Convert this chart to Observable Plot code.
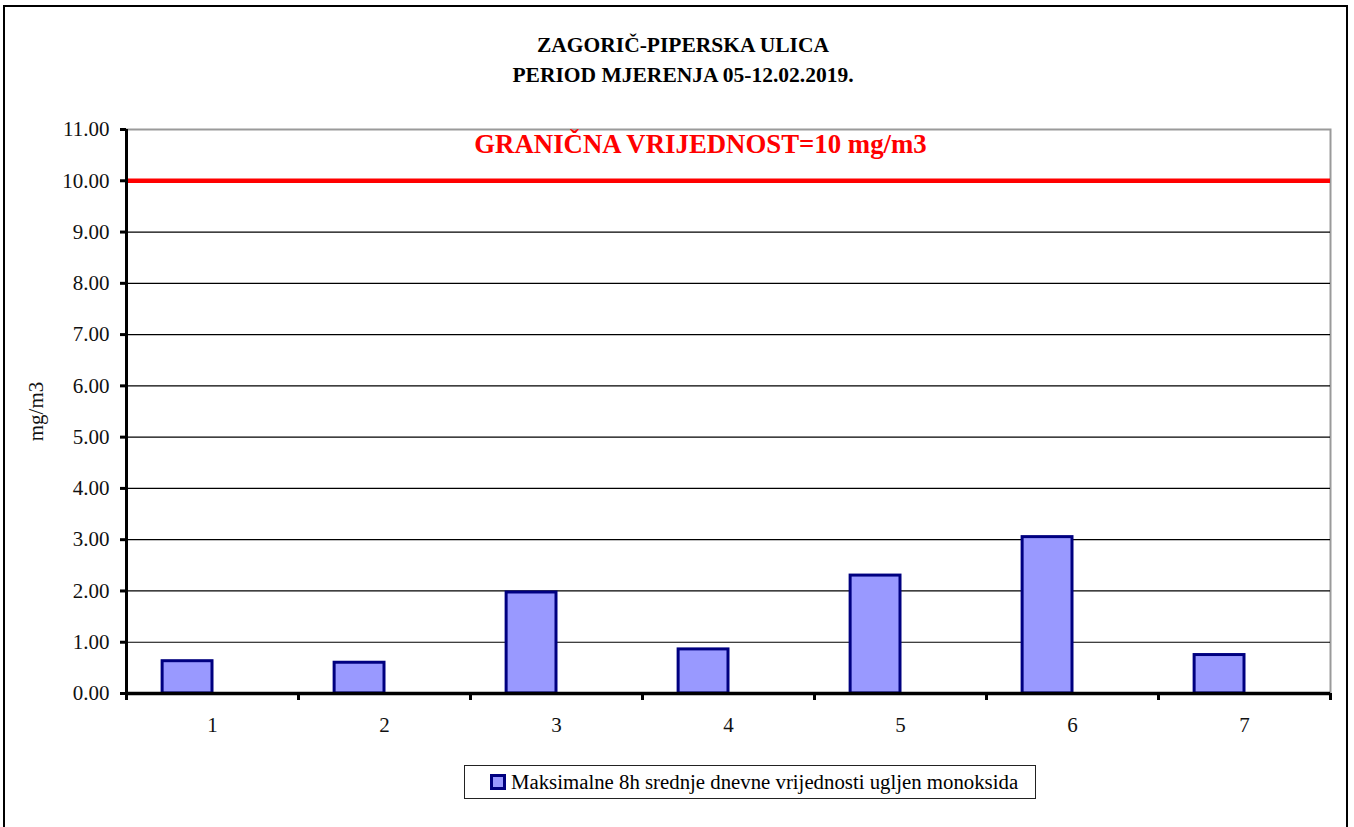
<!DOCTYPE html>
<html>
<head>
<meta charset="utf-8">
<script src="https://cdn.jsdelivr.net/npm/d3@7"></script>
<script src="https://cdn.jsdelivr.net/npm/@observablehq/plot@0.6"></script>
<style>
  html, body { margin: 0; padding: 0; background: #fff; }
  body { width: 1354px; height: 827px; position: relative; overflow: hidden; font-family: "Liberation Serif", "DejaVu Serif", serif; }
  #frame { position: absolute; left: 3px; top: 5px; width: 1345px; height: 840px; border: 2px solid #000; box-sizing: border-box; }
  #title { position: absolute; left: 683px; top: 30px; transform: translateX(-50%); text-align: center; font-weight: bold; font-size: 21.5px; line-height: 30px; color: #000; white-space: nowrap; }
  #chart { position: absolute; left: 0; top: 0; }
  #legend { position: absolute; left: 464px; top: 765px; width: 572px; height: 34px; border: 1.5px solid #222; box-sizing: border-box; display: flex; align-items: center; font-size: 20.8px; color: #000; white-space: nowrap; }
  #legend .sw { width: 16px; height: 16px; box-sizing: border-box; border: 3px solid #000080; background: #9999FF; margin-left: 25px; margin-right: 5px; }
</style>
</head>
<body>
<div id="frame"></div>
<div id="chart"></div>
<div id="title"></div>
<div id="legend"></div>
<script>
// ---- data ----
const titleLines = ["ZAGORIČ-PIPERSKA ULICA", "PERIOD MJERENJA 05-12.02.2019."];
const days = [1, 2, 3, 4, 5, 6, 7];
const coMax8h = [0.63, 0.60, 1.97, 0.86, 2.30, 3.05, 0.75];
const yTicks = [0, 1, 2, 3, 4, 5, 6, 7, 8, 9, 10, 11];
const limitValue = 10;
const limitLabel = "GRANIČNA VRIJEDNOST=10 mg/m3";
const yLabel = "mg/m3";
const seriesName = "Maksimalne 8h srednje dnevne vrijednosti ugljen monoksida";

// ---- build ----
const data = days.map((d, i) => ({day: d, value: coMax8h[i]}));
const xDomain = [days[0] - 0.5, days[days.length - 1] + 0.5];
const boundaries = days.map(d => d - 0.5).concat([xDomain[1]]);
const barFrac = 0.29;

document.getElementById("title").innerHTML = titleLines.join("<br>");
document.getElementById("legend").innerHTML = `<div class="sw"></div><span>${seriesName}</span>`;

const font = "Liberation Serif, DejaVu Serif, serif";
const chart = Plot.plot({
  width: 1354,
  height: 827,
  marginLeft: 126,
  marginRight: 24,
  marginTop: 129,
  marginBottom: 134,
  style: {fontFamily: font, fontSize: "21px", color: "#000", background: "transparent"},
  x: {type: "linear", domain: xDomain},
  y: {domain: [0, 11]},
  marks: [
    Plot.frame({stroke: "#9a9a9a", strokeWidth: 2}),
    Plot.gridY(yTicks.filter(t => t > 0 && t < 11), {stroke: "#000", strokeOpacity: 1, strokeWidth: 1.2}),
    Plot.rectY(data, {x1: d => d.day - barFrac, x2: d => d.day, y: "value", fill: "#9999FF", stroke: "#000080", strokeWidth: 3}),
    Plot.ruleY([limitValue], {stroke: "#ff0000", strokeWidth: 4.5}),
    Plot.text([limitLabel], {frameAnchor: "top", text: d => d, dx: -28, dy: 4, fill: "#ff0000", fontWeight: "bold", fontSize: 26.8, fontFamily: font}),
    Plot.ruleX([xDomain[0]], {stroke: "#000", strokeWidth: 3}),
    Plot.ruleY([0], {stroke: "#000", strokeWidth: 3.5}),
    Plot.axisY(yTicks, {tickFormat: d => d.toFixed(2), tickSize: 6, tickPadding: 11, strokeWidth: 3, fontSize: 21, fill: "#111",
      label: yLabel, labelAnchor: "center", labelArrow: "none", labelOffset: 98}),
    Plot.axisX(boundaries, {tickFormat: () => "", tickSize: 7, strokeWidth: 3, label: null}),
    Plot.axisX(days, {tickSize: 0, tickPadding: 24, fontSize: 21, fill: "#111", tickFormat: d => String(d), label: null})
  ]
});
document.getElementById("chart").appendChild(chart);
</script>
</body>
</html>
